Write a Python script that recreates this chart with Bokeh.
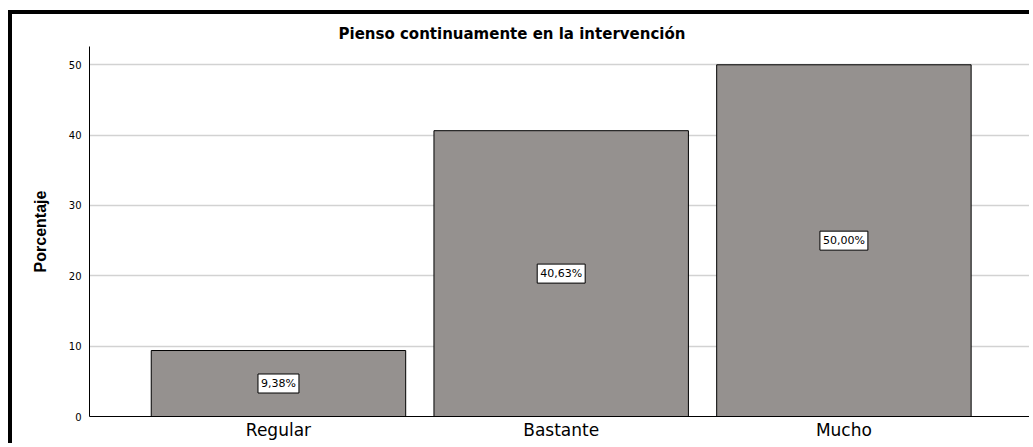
from bokeh.plotting import figure
from bokeh.models import ColumnDataSource, Range1d, Label, FixedTicker
from bokeh.embed import file_html
from bokeh.resources import INLINE

categories = ["Regular", "Bastante", "Mucho"]
percentages = [9.38, 40.63, 50.00]
y_ticks = [0, 10, 20, 30, 40, 50]

positions = list(range(1, len(categories) + 1))
labels = [f"{v:.2f}".replace(".", ",") + "%" for v in percentages]
mids = [v / 2 for v in percentages]

source = ColumnDataSource(dict(x=positions, pct=percentages))

p = figure(
    width=1021, height=433,
    x_range=Range1d(0.3316, 3.6706),
    y_range=Range1d(0, 52.6),
    output_backend="svg", toolbar_location=None,
    min_border_left=77, min_border_right=0, min_border_top=32, min_border_bottom=31,
    title="Pienso continuamente en la intervención",
)
p.styles = {"border-top": "4px solid #000000", "border-left": "4px solid #000000",
            "margin-left": "8px", "margin-top": "10px"}

p.title.text_font = "DejaVu Sans"
p.title.text_font_size = "15px"
p.title.text_font_style = "bold"
p.title.text_color = "#000000"
p.title.align = "left"
p.title.offset = 249
p.title.standoff = 7

p.outline_line_color = None
p.background_fill_color = "white"
p.border_fill_color = "white"

p.vbar(x="x", top="pct", width=0.9, source=source,
       fill_color="#95918f", line_color="#000000", line_width=1)

for xp, m, t in zip(positions, mids, labels):
    p.add_layout(Label(x=xp, y=m, text=t, text_align="center", text_baseline="middle",
                       text_font="DejaVu Sans", text_font_size="11px", text_color="#000000",
                       background_fill_color="white", border_line_color="#000000",
                       border_line_width=1, padding=3))

p.xgrid.grid_line_color = None
p.ygrid.grid_line_color = "#d2d2d2"
p.ygrid.grid_line_width = 1.5
p.yaxis.ticker = y_ticks

p.xaxis.ticker = FixedTicker(ticks=positions)
p.xaxis.major_label_overrides = {xp: c for xp, c in zip(positions, categories)}

p.yaxis.axis_label = "Porcentaje"
p.yaxis.axis_label_text_font = "Liberation Sans Narrow, Liberation Sans"
p.yaxis.axis_label_text_font_size = "16px"
p.yaxis.axis_label_text_font_style = "bold"
p.yaxis.axis_label_text_color = "#000000"
p.yaxis.axis_label_standoff = 17
p.yaxis.major_label_text_font = "DejaVu Sans"
p.yaxis.major_label_text_font_size = "10px"
p.yaxis.major_label_text_color = "#000000"
p.yaxis.major_label_standoff = 8
p.yaxis.major_tick_out = 0
p.yaxis.major_tick_in = 0
p.yaxis.minor_tick_out = 0
p.yaxis.minor_tick_in = 0
p.yaxis.axis_line_color = "#000000"

p.xaxis.major_label_text_font = "DejaVu Sans"
p.xaxis.major_label_text_font_size = "17px"
p.xaxis.major_label_text_color = "#000000"
p.xaxis.major_label_standoff = 3
p.xaxis.major_tick_out = 0
p.xaxis.major_tick_in = 0
p.xaxis.minor_tick_out = 0
p.xaxis.minor_tick_in = 0
p.xaxis.axis_line_color = "#000000"

open("out.html", "w").write(file_html(p, INLINE))
